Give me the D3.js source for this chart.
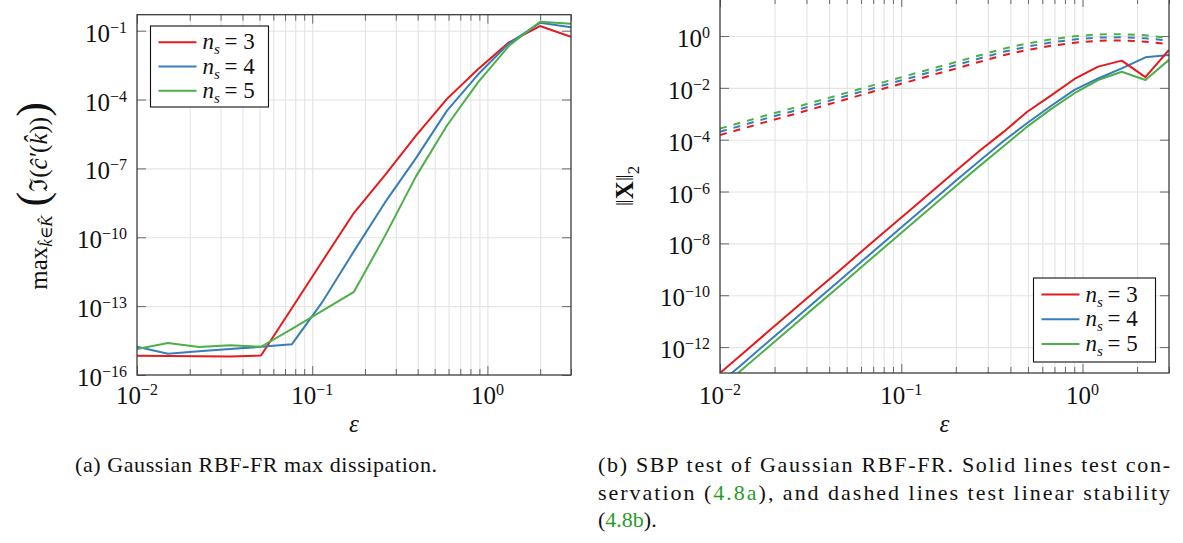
<!DOCTYPE html>
<html><head><meta charset="utf-8">
<script src="https://cdn.jsdelivr.net/npm/d3@7"></script>
<style>body{margin:0;background:#fff}
text{font-family:"Liberation Serif","DejaVu Serif","Times New Roman",serif}
</style>
</head><body>
<svg id="c" width="1183" height="543" xmlns="http://www.w3.org/2000/svg"></svg>
<script>
// ---------- data ----------
const epsA = [0.01, 0.01503, 0.02259, 0.03395, 0.05102, 0.07667, 0.1152, 0.1732, 0.2603, 0.3911, 0.5879, 0.8835, 1.328, 1.995, 3.0];
const dissN3 = [6.9e-16, 6.8e-16, 6.6e-16, 6.4e-16, 7.1e-16, 8.3e-14, 1.0e-11, 1.17e-9, 5.1e-8, 2.7e-6, 1.07e-4, 2.1e-3, 3.1e-2, 0.16, 0.054];
const dissN4 = [1.7e-15, 8.5e-16, 1.07e-15, 1.35e-15, 1.7e-15, 2.2e-15, 1.66e-13, 2.5e-11, 3.3e-9, 2.8e-7, 3.3e-5, 1.23e-3, 2.8e-2, 0.22, 0.14];
const dissN5 = [1.35e-15, 2.5e-15, 1.66e-15, 2.0e-15, 1.7e-15, 1.02e-14, 6.5e-14, 4.2e-13, 1.15e-10, 4.5e-8, 7.4e-6, 5.6e-4, 2.2e-2, 0.245, 0.2];

const epsB = [0.01, 0.0135, 0.01823, 0.02462, 0.03323, 0.04487, 0.06058, 0.08181, 0.1104, 0.1491, 0.2013, 0.2718, 0.3669, 0.4955, 0.6690, 0.9033, 1.219, 1.646, 2.223, 3.0];
const consN3 = [1.0e-13, 6.0e-13, 3.7e-12, 2.24e-11, 1.35e-10, 8.1e-10, 5.0e-9, 3.0e-8, 1.78e-7, 1.07e-6, 6.5e-6, 3.8e-5, 2.0e-4, 1.2e-3, 5.0e-3, 2.2e-2, 6.6e-2, 0.112, 2.6e-2, 0.29];
const consN4 = [4.1e-14, 2.45e-13, 1.51e-12, 9.1e-12, 5.5e-11, 3.3e-10, 2.04e-9, 1.23e-8, 7.4e-8, 4.5e-7, 2.7e-6, 1.58e-5, 8.9e-5, 4.4e-4, 2.0e-3, 8.3e-3, 2.3e-2, 5.6e-2, 0.151, 0.186];
const consN5 = [2.5e-14, 1.51e-13, 9.3e-13, 5.6e-12, 3.4e-11, 2.04e-10, 1.26e-9, 7.6e-9, 4.6e-8, 2.75e-7, 1.66e-6, 1.0e-5, 5.6e-5, 3.2e-4, 1.51e-3, 6.2e-3, 2.0e-2, 4.2e-2, 2.0e-2, 0.12];
const stabN3 = [1.51e-4, 2.75e-4, 5.0e-4, 8.9e-4, 1.62e-3, 2.95e-3, 5.4e-3, 9.8e-3, 1.74e-2, 3.16e-2, 5.6e-2, 0.102, 0.182, 0.288, 0.417, 0.55, 0.66, 0.676, 0.603, 0.49];
const stabN4 = [2.04e-4, 3.7e-4, 6.8e-4, 1.2e-3, 2.19e-3, 3.98e-3, 7.2e-3, 1.32e-2, 2.34e-2, 4.3e-2, 7.6e-2, 0.138, 0.245, 0.389, 0.562, 0.741, 0.871, 0.891, 0.813, 0.661];
const stabN5 = [2.7e-4, 4.9e-4, 8.9e-4, 1.58e-3, 2.9e-3, 5.2e-3, 9.5e-3, 1.74e-2, 3.1e-2, 5.6e-2, 0.1, 0.182, 0.324, 0.513, 0.741, 0.977, 1.15, 1.17, 1.07, 0.83];

const seriesNames = ["3", "4", "5"];
const colors = ["#e41a1c", "#377eb8", "#4daf4a"];
const xTickExps = [-2, -1, 0];
const leftYTickExps = [-16, -13, -10, -7, -4, -1];
const rightYTickExps = [-12, -10, -8, -6, -4, -2, 0];
const captionA = "(a) Gaussian RBF-FR max dissipation.";

// ---------- drawing ----------
const svg = d3.select("#c");
svg.append("rect").attr("width", 1183).attr("height", 543).attr("fill", "#fff");
const GRID = "#e4e4e4", TICK = "#6a6a6a", FRAME = "#3c3c3c";

function expText(sel, e) {
  sel.append("tspan").text("10");
  sel.append("tspan").attr("dy", -9).attr("font-size", 16).text(e < 0 ? "\u2212" + (-e) : String(e));
}

function drawPanel(p, idx) {
  const x = d3.scaleLog().domain([0.01, 3]).range([p.left, p.right]);
  const y = d3.scaleLog().domain(p.yDomain).range([p.bottom, p.top]);
  const W = p.right - p.left, H = p.bottom - p.top;
  const g = svg.append("g");
  const allX = x.ticks();
  const majorX = xTickExps.map(e => Math.pow(10, e));
  const isMajor = v => majorX.some(m => Math.abs(m - v) / m < 1e-6);
  const minorX = allX.filter(v => !isMajor(v));
  const gridX = allX.filter(v => v > 0.01 * 1.0001 && v < 3 * 0.9999);
  const majorY = p.yExps.map(e => Math.pow(10, e));
  const gridY = majorY.filter(v => y(v) < p.bottom - 1 && y(v) > p.top + 1);
  const clean = a => { a.select(".domain").remove(); a.selectAll("text").remove(); };

  g.append("g").attr("transform", `translate(0,${p.bottom})`)
    .call(d3.axisBottom(x).tickValues(gridX).tickSize(-H).tickFormat(""))
    .call(clean).selectAll("line").attr("stroke", GRID).attr("stroke-width", 1.1);
  g.append("g").attr("transform", `translate(${p.left},0)`)
    .call(d3.axisLeft(y).tickValues(gridY).tickSize(-W).tickFormat(""))
    .call(clean).selectAll("line").attr("stroke", GRID).attr("stroke-width", 1.1);

  const tk = (axis, tr) => g.append("g").attr("transform", tr).call(axis).call(clean)
      .selectAll("line").attr("stroke", TICK).attr("stroke-width", 1);
  tk(d3.axisBottom(x).tickValues(majorX).tickSizeInner(-9).tickSizeOuter(0).tickFormat(""), `translate(0,${p.bottom})`);
  tk(d3.axisBottom(x).tickValues(minorX).tickSizeInner(-6).tickSizeOuter(0).tickFormat(""), `translate(0,${p.bottom})`);
  tk(d3.axisTop(x).tickValues(majorX).tickSizeInner(-9).tickSizeOuter(0).tickFormat(""), `translate(0,${p.top})`);
  tk(d3.axisTop(x).tickValues(minorX).tickSizeInner(-6).tickSizeOuter(0).tickFormat(""), `translate(0,${p.top})`);
  tk(d3.axisLeft(y).tickValues(majorY).tickSizeInner(-9).tickSizeOuter(0).tickFormat(""), `translate(${p.left},0)`);
  tk(d3.axisRight(y).tickValues(majorY).tickSizeInner(-9).tickSizeOuter(0).tickFormat(""), `translate(${p.right},0)`);

  xTickExps.forEach(e => {
    const t = g.append("text").attr("x", x(Math.pow(10, e))).attr("y", 404)
      .attr("text-anchor", "middle").attr("font-size", 25).attr("fill", "#111");
    expText(t, e);
  });
  p.yExps.forEach(e => {
    const t = g.append("text").attr("x", p.left - 10).attr("y", y(Math.pow(10, e)) + 11)
      .attr("text-anchor", "end").attr("font-size", 25).attr("fill", "#111");
    expText(t, e);
  });

  const cid = "clip" + idx;
  svg.append("clipPath").attr("id", cid).append("rect")
    .attr("x", p.left).attr("y", p.top).attr("width", W).attr("height", H);
  const line = d3.line().x(d => x(d[0])).y(d => y(d[1]));
  const lg = g.append("g").attr("clip-path", `url(#${cid})`);
  p.series.forEach(s => {
    lg.append("path").datum(s.xs.map((v, i) => [v, s.vals[i]]))
      .attr("d", line).attr("fill", "none").attr("stroke", s.color)
      .attr("stroke-width", 2).attr("stroke-linejoin", "round")
      .attr("stroke-dasharray", s.dash ? "7,7" : null);
  });

  g.append("rect").attr("x", p.left).attr("y", p.top).attr("width", W).attr("height", H)
    .attr("fill", "none").attr("stroke", FRAME).attr("stroke-width", 1.3);

  g.append("text").attr("x", (p.left + p.right) / 2).attr("y", 432).attr("text-anchor", "middle")
    .attr("font-style", "italic").attr("font-size", 25).attr("fill", "#111")
    .text("\u03b5");

  const L = p.legend;
  g.append("rect").attr("x", L.x).attr("y", L.y).attr("width", L.w).attr("height", L.h)
    .attr("fill", "#fff").attr("stroke", "#111").attr("stroke-width", 1.1);
  seriesNames.forEach((n, i) => {
    const yy = L.y + L.first + i * L.step;
    g.append("line").attr("x1", L.x + 8).attr("x2", L.x + 46).attr("y1", yy).attr("y2", yy)
      .attr("stroke", colors[i]).attr("stroke-width", 2);
    const t = g.append("text").attr("x", L.x + 52).attr("y", yy + 7)
      .attr("font-size", 23).attr("fill", "#111");
    t.append("tspan").attr("font-style", "italic").text("n");
    t.append("tspan").attr("font-style", "italic").attr("font-size", 15).attr("dy", 5).text("s");
    t.append("tspan").attr("dy", -5).text("\u2009= " + n);
  });
}

drawPanel({
  left: 137, right: 571, top: 14.7, bottom: 375,
  yDomain: [1e-16, Math.pow(10, -0.303)], yExps: leftYTickExps,
  series: [
    { xs: epsA, vals: dissN3, color: colors[0] },
    { xs: epsA, vals: dissN4, color: colors[1] },
    { xs: epsA, vals: dissN5, color: colors[2] }
  ],
  legend: { x: 150.5, y: 26, w: 118, h: 81, first: 16.3, step: 24.2 }
}, 0);

drawPanel({
  left: 720, right: 1169, top: -2, bottom: 373,
  yDomain: [1e-13, Math.pow(10, 1.466)], yExps: rightYTickExps,
  series: [
    { xs: epsB, vals: stabN5, color: colors[2], dash: true },
    { xs: epsB, vals: stabN4, color: colors[1], dash: true },
    { xs: epsB, vals: stabN3, color: colors[0], dash: true },
    { xs: epsB, vals: consN5, color: colors[2] },
    { xs: epsB, vals: consN4, color: colors[1] },
    { xs: epsB, vals: consN3, color: colors[0] }
  ],
  legend: { x: 1033.5, y: 278, w: 122, h: 84, first: 16.5, step: 24.8 }
}, 1);

// y labels
const yl = svg.append("text").attr("transform", "translate(47,196) rotate(-90)")
  .attr("text-anchor", "middle").attr("font-size", 25).attr("fill", "#111");
yl.append("tspan").text("max");
yl.append("tspan").attr("font-size", 17).attr("font-style", "italic").attr("dy", 5).text("k\u0302\u2208K\u0302");
yl.append("tspan").attr("dy", -5).attr("font-size", 44).text("\u2009(");
yl.append("tspan").text("\u2111(");
yl.append("tspan").attr("font-style", "italic").text("c\u0302\u2032");
yl.append("tspan").text("(");
yl.append("tspan").attr("font-style", "italic").text("k\u0302");
yl.append("tspan").text("))");
yl.append("tspan").attr("font-size", 44).text(")");

const yr = svg.append("text").attr("transform", "translate(633,186) rotate(-90)")
  .attr("text-anchor", "middle").attr("font-size", 25).attr("fill", "#111");
yr.append("tspan").text("\u2016");
yr.append("tspan").attr("font-weight", "bold").text("X");
yr.append("tspan").text("\u2016");
yr.append("tspan").attr("font-size", 17).attr("dy", 6).text("2");

// captions
svg.append("text").attr("x", 75).attr("y", 472).attr("font-size", 22)
  .attr("fill", "#111").attr("textLength", 362).attr("lengthAdjust", "spacing").text(captionA);

const LINK = "#2a9a2a";
svg.append("text").attr("x", 598).attr("y", 472).attr("font-size", 22)
  .attr("fill", "#111").attr("textLength", 572).attr("lengthAdjust", "spacing")
  .text("(b) SBP test of Gaussian RBF-FR. Solid lines test con-");
const c2 = svg.append("text").attr("x", 598).attr("y", 500).attr("font-size", 22)
  .attr("fill", "#111").attr("textLength", 572).attr("lengthAdjust", "spacing");
c2.append("tspan").text("servation (");
c2.append("tspan").attr("fill", LINK).text("4.8a");
c2.append("tspan").text("), and dashed lines test linear stability");
const c3 = svg.append("text").attr("x", 598).attr("y", 527).attr("font-size", 22)
  .attr("fill", "#111");
c3.append("tspan").text("(");
c3.append("tspan").attr("fill", LINK).text("4.8b");
c3.append("tspan").text(").");
</script>
</body></html>
